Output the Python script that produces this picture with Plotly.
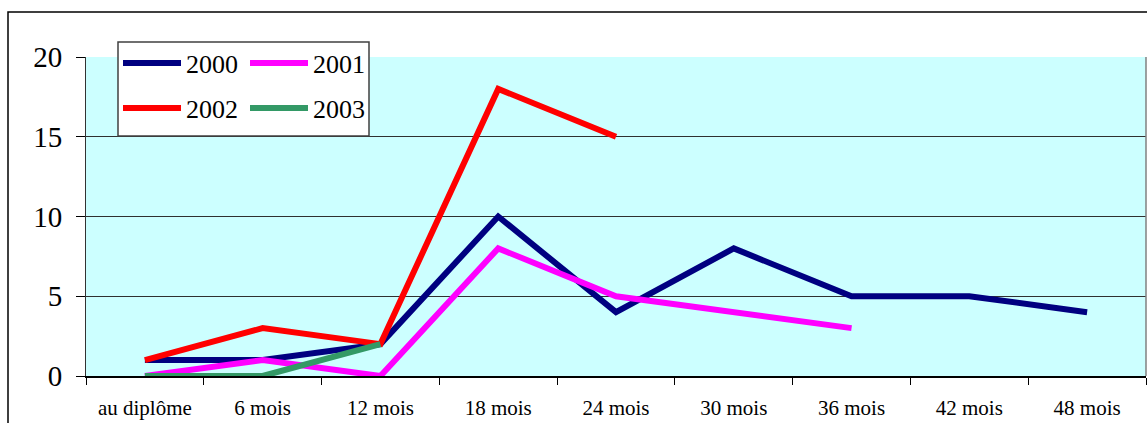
import plotly.graph_objects as go

categories = ["au diplôme", "6 mois", "12 mois", "18 mois", "24 mois",
              "30 mois", "36 mois", "42 mois", "48 mois"]
series_names = ["2000", "2001", "2002", "2003"]
values_2000 = [1, 1, 2, 10, 4, 8, 5, 5, 4]
values_2001 = [0, 1, 0, 8, 5, 4, 3]
values_2002 = [1, 3, 2, 18, 15]
values_2003 = [0, 0, 2]
colors = ["#000080", "#FF00FF", "#FF0000", "#339966"]
y_ticks = [0, 5, 10, 15, 20]

FONT = "Liberation Serif, Times New Roman, serif"
W, H = 1147, 423
ML, MR, MT, MB = 86, 1, 57, 47
pw, ph = W - ML - MR, H - MT - MB

def px_x(p):
    return (p - ML) / pw

def px_y(p):
    return (H - MB - p) / ph

fig = go.Figure()
all_vals = [values_2000, values_2001, values_2002, values_2003]
legends = ["legend", "legend", "legend2", "legend2"]
for name, vals, col, lg in zip(series_names, all_vals, colors, legends):
    fig.add_trace(go.Scatter(
        x=categories[:len(vals)], y=vals, name=name, mode="lines",
        line=dict(color=col, width=6), legend=lg,
    ))

leg_common = dict(
    orientation="h", xanchor="left", yanchor="middle",
    bgcolor="rgba(0,0,0,0)", borderwidth=0, entrywidth=54, entrywidthmode="pixels",
    font=dict(family=FONT, size=26), itemwidth=58,
)

fig.update_layout(
    width=W, height=H,
    margin=dict(l=ML, r=MR, t=MT, b=MB),
    paper_bgcolor="white",
    plot_bgcolor="#CCFFFF",
    font=dict(family=FONT, color="black"),
    xaxis=dict(
        type="category", categoryorder="array", categoryarray=categories,
        range=[-0.5, len(categories) - 0.5],
        tickson="boundaries", ticks="outside", ticklen=7, tickcolor="black",
        showgrid=False, showline=True, linecolor="black", linewidth=2,
        tickfont=dict(family=FONT, size=21), ticklabelstandoff=12,
    ),
    yaxis=dict(
        range=[0, 20], tickvals=y_ticks, ticks="outside", ticklen=9,
        tickcolor="black", showgrid=True, gridcolor="#303030", gridwidth=1,
        showline=True, linecolor="#333333", linewidth=1, zeroline=False,
        tickfont=dict(family=FONT, size=29), ticklabelstandoff=8,
    ),
    legend=dict(x=px_x(118), y=px_y(63), **leg_common),
    legend2=dict(x=px_x(118), y=px_y(108), **leg_common),
    showlegend=True,
    shapes=[
        # outer chart border
        dict(type="rect", xref="paper", yref="paper",
             x0=px_x(8), x1=px_x(1160), y0=px_y(440), y1=px_y(12),
             line=dict(color="black", width=1.5), fillcolor="rgba(0,0,0,0)", layer="below"),
        # plot area right border
        dict(type="line", xref="paper", yref="paper", x0=1, x1=1, y0=0, y1=1,
             line=dict(color="#808080", width=1.5)),
        # legend box
        dict(type="rect", xref="paper", yref="paper",
             x0=px_x(118), x1=px_x(369), y0=px_y(136), y1=px_y(42),
             line=dict(color="#404040", width=1.5), fillcolor="white", layer="above"),
    ],
)

fig.write_html("out.html", config={"displayModeBar": False},
               post_script="document.body.style.margin='0';")
